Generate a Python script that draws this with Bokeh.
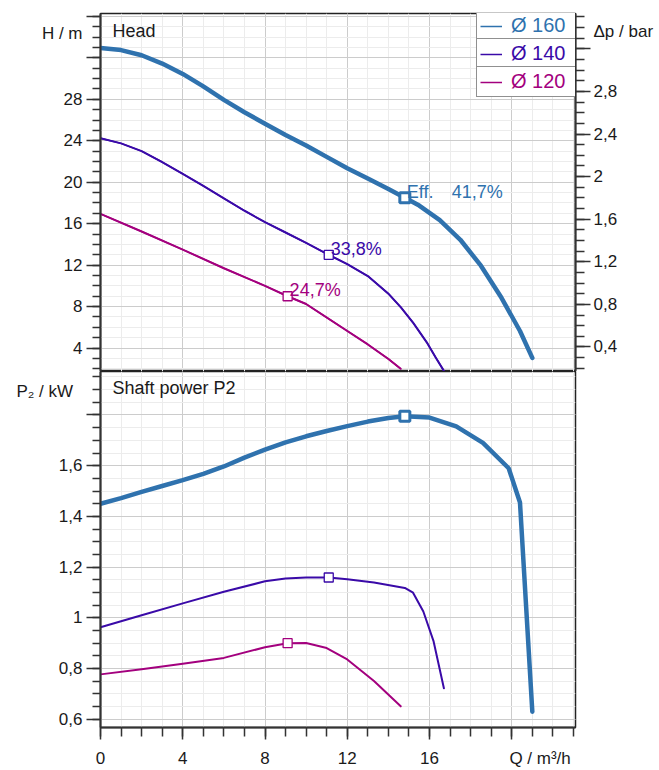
from bokeh.plotting import figure
from bokeh.layouts import column
from bokeh.models import FixedTicker, LinearAxis, Range1d, Label, Legend, LegendItem, Grid
from bokeh.embed import file_html
from bokeh.resources import INLINE

FONT = "Liberation Sans"
TXT = "#1a1a1a"
NB = "\u00a0"

# ---------------- data ----------------
names = ["Ø 160", "Ø 140", "Ø 120"]
colors = ["#2f72ae", "#3a0aa8", "#a3007e"]
widths = [4.5, 2.0, 2.0]

# Head curves (Q m3/h, H m)
q160 = [0, 1, 2, 3, 4, 5, 6, 7, 8, 9, 10, 11, 12, 13, 14, 14.8, 15.5, 16.5, 17.5, 18.5, 19.5, 20.4, 21.0]
h160 = [32.95, 32.75, 32.25, 31.45, 30.45, 29.25, 27.95, 26.75, 25.65, 24.55, 23.55, 22.45, 21.35,
        20.35, 19.35, 18.5, 17.75, 16.35, 14.45, 11.95, 8.85, 5.65, 3.05]
q140 = [0, 1, 2, 3, 4, 5, 6, 7, 8, 9, 10, 11.1, 12, 13, 14, 14.6, 15.2, 15.9, 16.3, 16.7]
h140 = [24.25, 23.75, 23.0, 21.95, 20.8, 19.65, 18.45, 17.25, 16.15, 15.15, 14.15, 13.0, 12.1,
        10.95, 9.25, 7.95, 6.45, 4.45, 3.1, 1.8]
q120 = [0, 2, 4, 6, 8, 9.1, 10, 11, 12, 13, 14, 14.6]
h120 = [16.95, 15.25, 13.5, 11.7, 10.0, 9.0, 8.25, 6.95, 5.65, 4.35, 2.95, 2.0]

# Shaft power curves (Q m3/h, P2 kW)
q160p = [0, 1, 2, 3, 4, 5, 6, 7, 8, 9, 10, 11, 12, 13, 14, 14.8, 16, 17.3, 18.6, 19.85, 20.4, 21.0]
p160 = [1.450, 1.472, 1.497, 1.520, 1.543, 1.568, 1.597, 1.632, 1.663, 1.692, 1.716, 1.737, 1.756,
        1.774, 1.788, 1.795, 1.790, 1.755, 1.690, 1.590, 1.455, 0.63]
q140p = [0, 2, 4, 6, 8, 9, 10, 11.1, 12, 13.3, 14.8, 15.2, 15.7, 16.2, 16.7]
p140 = [0.963, 1.010, 1.057, 1.103, 1.144, 1.155, 1.159, 1.159, 1.152, 1.139, 1.118, 1.099, 1.025, 0.907, 0.722]
q120p = [0, 2, 4, 6, 8, 9.1, 10, 11, 12, 13.3, 14.6]
p120 = [0.777, 0.797, 0.819, 0.842, 0.884, 0.900, 0.901, 0.881, 0.836, 0.751, 0.651]

# best efficiency points
eff_q = [14.8, 11.1, 9.1]
eff_h = [18.5, 13.0, 9.0]
eff_p = [1.795, 1.159, 0.900]
eff_text = ["41,7%", "33,8%", "24,7%"]
eff_prefix = "Eff."

# axes / ticks (axis titles ride on the top, otherwise unlabelled, major ticks)
M_PER_BAR = 10.27
q_major = [0, 4, 8, 12, 16, 20]
q_minor = list(range(0, 24))
q_labels = {0: "0", 4: "4", 8: "8", 12: "12", 16: "16", 20: NB * 12 + "Q / m³/h"}
h_major = [4, 8, 12, 16, 20, 24, 28, 32, 36]
h_minor = list(range(2, 37))
h_labels = {4: "4", 8: "8", 12: "12", 16: "16", 20: "20", 24: "24", 28: "28",
            32: "H / m\n", 36: ""}
dp_major = [0.4, 0.8, 1.2, 1.6, 2.0, 2.4, 2.8, 3.2]
dp_minor = [0.2, 0.3, 0.4, 0.5, 0.6, 0.7, 0.8, 0.9, 1.0, 1.1, 1.2, 1.3, 1.4, 1.5, 1.6, 1.7, 1.8, 1.9,
            2.0, 2.1, 2.2, 2.3, 2.4, 2.5, 2.6, 2.7, 2.8, 2.9, 3.0, 3.1, 3.2, 3.3, 3.4, 3.5]
dp_labels = {0.4: "0,4", 0.8: "0,8", 1.2: "1,2", 1.6: "1,6", 2.0: "2", 2.4: "2,4", 2.8: "2,8",
             3.2: "Δp / bar\n"}
p_major = [0.6, 0.8, 1.0, 1.2, 1.4, 1.6, 1.8]
p_minor = [0.6, 0.65, 0.7, 0.75, 0.8, 0.85, 0.9, 0.95, 1.0, 1.05, 1.1, 1.15, 1.2, 1.25, 1.3, 1.35,
           1.4, 1.45, 1.5, 1.55, 1.6, 1.65, 1.7, 1.75, 1.8, 1.85, 1.9, 1.95]
p_labels = {0.6: "0,6", 0.8: "0,8", 1.0: "1", 1.2: "1,2", 1.4: "1,4", 1.6: "1,6",
            1.8: "P₂ / kW" + NB * 2 + "\n"}

Q_RANGE = (0, 23.1)
H_RANGE = (1.74, 36.28)
P_RANGE = (0.5675, 1.9715)

# ---------------- helpers ----------------
def style_axis(ax, standoff):
    ax.axis_line_color = "#333333"
    ax.axis_line_width = 2
    ax.major_tick_line_color = "#333333"
    ax.minor_tick_line_color = "#333333"
    ax.major_tick_line_width = 1.5
    ax.minor_tick_line_width = 1.5
    ax.major_tick_in = 0
    ax.minor_tick_in = 0
    ax.major_label_standoff = standoff
    ax.major_label_text_font = FONT
    ax.major_label_text_font_size = "17px"
    ax.major_label_text_color = TXT


def style_grid(g):
    g.grid_line_color = "#cccccc"
    g.grid_line_width = 1
    g.minor_grid_line_color = "#ececec"
    g.minor_grid_line_width = 1


def add_text(p, x, y, text, size="17px", style="normal", color=TXT, units="screen", **kw):
    lab = Label(x=x, y=y, x_units=units, y_units=units, text=text, text_font=FONT,
                text_font_size=size, text_font_style=style, text_color=color,
                text_baseline="alphabetic", text_align="left", **kw)
    p.add_layout(lab)
    return lab


# ---------------- top: head ----------------
top = figure(width=659, height=371, x_range=Range1d(*Q_RANGE), y_range=Range1d(*H_RANGE),
             output_backend="svg", toolbar_location=None, x_axis_location=None,
             min_border_left=100, min_border_right=84, min_border_top=13, min_border_bottom=0)
top.extra_y_ranges = {"dp": Range1d(H_RANGE[0] / M_PER_BAR, H_RANGE[1] / M_PER_BAR)}
top.background_fill_color = "white"
top.border_fill_color = "white"
top.outline_line_color = "#222222"
top.outline_line_width = 1.5

top.yaxis.ticker = FixedTicker(ticks=h_major, minor_ticks=h_minor)
top.yaxis.major_label_overrides = h_labels
top.yaxis.major_tick_out = 14
top.yaxis.minor_tick_out = 8
style_axis(top.yaxis[0], 4)
top.yaxis.major_label_text_line_height = 2.54

rax = LinearAxis(y_range_name="dp", ticker=FixedTicker(ticks=dp_major, minor_ticks=dp_minor))
rax.major_label_overrides = dp_labels
rax.major_tick_out = 15
rax.minor_tick_out = 9
style_axis(rax, 3)
rax.major_label_text_line_height = 1.82
top.add_layout(rax, "right")

xt_top = FixedTicker(ticks=q_major, minor_ticks=q_minor)
if len(top.xgrid) == 0:
    top.add_layout(Grid(dimension=0, ticker=xt_top), "center")
else:
    top.xgrid.ticker = xt_top
for g in top.grid:
    style_grid(g)

head_q = [q160, q140, q120]
head_h = [h160, h140, h120]
legend_r = []
for i in range(3):
    # thin copy (hidden under the drawn curve) gives the legend its thin line sample
    legend_r.append(top.line(head_q[i], head_h[i], line_color=colors[i], line_width=1.5))
    top.line(head_q[i], head_h[i], line_color=colors[i], line_width=widths[i],
             line_cap="round", line_join="round")

for i in range(3):
    top.scatter([eff_q[i]], [eff_h[i]], marker="square", size=10 if i == 0 else 9,
                fill_color="white", line_color=colors[i], line_width=3 if i == 0 else 1.3)
    add_text(top, eff_q[i], eff_h[i], eff_text[i], size="18px", color=colors[i], units="data",
             x_offset=47 if i == 0 else 2, y_offset=6)
add_text(top, eff_q[0], eff_h[0], eff_prefix, size="18px", color=colors[0], units="data",
         x_offset=2, y_offset=6)

# legend: one box per entry (coloured label text)
LG_PAD, LG_GW, LG_ST, LG_LW = 3, 22, 9, 62
lg_w = 2 * LG_PAD + LG_GW + LG_ST + LG_LW
for i in range(3):
    lg = Legend(items=[LegendItem(label=names[i], renderers=[legend_r[i]])],
                location=(475 - lg_w, 330 - 28 * i),
                label_text_font=FONT, label_text_font_size="20px", label_text_color=colors[i],
                border_line_color="#222222", border_line_width=1.5,
                background_fill_color="white", background_fill_alpha=1.0,
                padding=LG_PAD, spacing=0, margin=0, glyph_width=LG_GW, glyph_height=20,
                label_standoff=LG_ST, label_width=LG_LW, label_height=20)
    top.add_layout(lg)

add_text(top, 12, 341, "Head", size="18px")

# ---------------- bottom: shaft power ----------------
bot = figure(width=659, height=399, x_range=top.x_range, y_range=Range1d(*P_RANGE),
             output_backend="svg", toolbar_location=None,
             min_border_left=100, min_border_right=84, min_border_top=0, min_border_bottom=40)
bot.background_fill_color = "white"
bot.border_fill_color = "white"
bot.outline_line_color = "#222222"
bot.outline_line_width = 1.5

bot.xaxis.ticker = FixedTicker(ticks=q_major, minor_ticks=q_minor)
bot.xaxis.major_label_overrides = q_labels
bot.xaxis.major_tick_out = 12
bot.xaxis.minor_tick_out = 9
style_axis(bot.xaxis[0], 9)

bot.yaxis.ticker = FixedTicker(ticks=p_major, minor_ticks=p_minor)
bot.yaxis.major_label_overrides = p_labels
bot.yaxis.major_tick_out = 14
bot.yaxis.minor_tick_out = 8
style_axis(bot.yaxis[0], 4)
bot.yaxis.major_label_text_line_height = 2.49
for g in bot.grid:
    style_grid(g)

pow_q = [q160p, q140p, q120p]
pow_p = [p160, p140, p120]
for i in range(3):
    bot.line(pow_q[i], pow_p[i], line_color=colors[i], line_width=widths[i],
             line_cap="round", line_join="round")
for i in range(3):
    bot.scatter([eff_q[i]], [eff_p[i]], marker="square", size=10 if i == 0 else 9,
                fill_color="white", line_color=colors[i], line_width=3 if i == 0 else 1.3)

add_text(bot, 12, 340, "Shaft power P2", size="18px")

layout = column(top, bot, spacing=0)
open("out.html", "w").write(file_html(layout, INLINE))
